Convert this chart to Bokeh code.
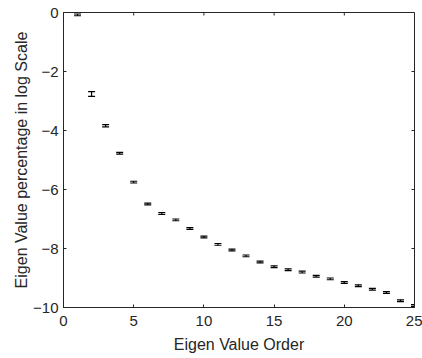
from bokeh.plotting import figure
from bokeh.models import ColumnDataSource, Whisker, TeeHead, Range1d, FixedTicker
from bokeh.embed import file_html
from bokeh.resources import INLINE

order = list(range(1, 26))
eig_log = [-0.08, -2.76, -3.84, -4.77, -5.75, -6.49, -6.81, -7.03, -7.32, -7.61,
           -7.86, -8.05, -8.25, -8.46, -8.62, -8.72, -8.80, -8.94, -9.03, -9.15,
           -9.26, -9.38, -9.49, -9.77, -9.93]
err = [0.03, 0.08, 0.04, 0.03, 0.03, 0.03, 0.03, 0.03, 0.03, 0.03,
       0.03, 0.03, 0.03, 0.03, 0.03, 0.03, 0.03, 0.03, 0.03, 0.03,
       0.03, 0.03, 0.03, 0.03, 0.03]
x_ticks = [0, 5, 10, 15, 20, 25]
y_ticks = [-10, -8, -6, -4, -2, 0]

X0, X1, Y0, Y1 = 0, 25, -10, 0

upper = [v + e for v, e in zip(eig_log, err)]
lower = [v - e for v, e in zip(eig_log, err)]
src = ColumnDataSource(dict(x=order, y=eig_log, upper=upper, lower=lower))

TXT = "#262626"
FONT = "Liberation Sans"

p = figure(width=422, height=358, output_backend="svg", toolbar_location=None,
           x_range=Range1d(X0, X1), y_range=Range1d(Y0, Y1),
           min_border_left=63, min_border_right=8, min_border_top=12, min_border_bottom=51)
p.background_fill_color = "white"
p.border_fill_color = "white"
p.grid.visible = False
p.outline_line_color = TXT
p.outline_line_width = 1

w = Whisker(base="x", upper="upper", lower="lower", source=src,
            line_color="black", line_width=1.2,
            upper_head=TeeHead(size=7, line_color="black", line_width=1.2),
            lower_head=TeeHead(size=7, line_color="black", line_width=1.2))
p.add_layout(w)

# inward ticks on the top and right frame edges (box style)
tick_len_x = 3 * (Y1 - Y0) / 295.0
tick_len_y = 3 * (X1 - X0) / 351.0
p.segment(x0=x_ticks, y0=[Y1] * len(x_ticks), x1=x_ticks, y1=[Y1 - tick_len_x] * len(x_ticks),
          line_color=TXT, line_width=1)
p.segment(x0=[X1] * len(y_ticks), y0=y_ticks, x1=[X1 - tick_len_y] * len(y_ticks), y1=y_ticks,
          line_color=TXT, line_width=1)

def style(ax, ticks):
    ax.ticker = FixedTicker(ticks=ticks)
    ax.axis_line_color = TXT
    ax.major_tick_line_color = TXT
    ax.major_tick_in = 3
    ax.major_tick_out = 0
    ax.minor_tick_line_color = None
    ax.major_label_text_color = TXT
    ax.major_label_text_font = FONT
    ax.major_label_text_font_size = "15px"
    ax.axis_label_text_color = TXT
    ax.axis_label_text_font = FONT
    ax.axis_label_text_font_size = "16px"
    ax.axis_label_text_font_style = "normal"

style(p.xaxis[0], x_ticks)
style(p.yaxis[0], y_ticks)
p.xaxis[0].axis_label = "Eigen Value Order"
p.yaxis[0].axis_label = "Eigen Value percentage in log Scale"
p.xaxis[0].major_label_standoff = 8
p.xaxis[0].axis_label_standoff = 7
p.yaxis[0].major_label_standoff = 5
p.yaxis[0].axis_label_standoff = 0

open("out.html", "w").write(file_html(p, INLINE))
